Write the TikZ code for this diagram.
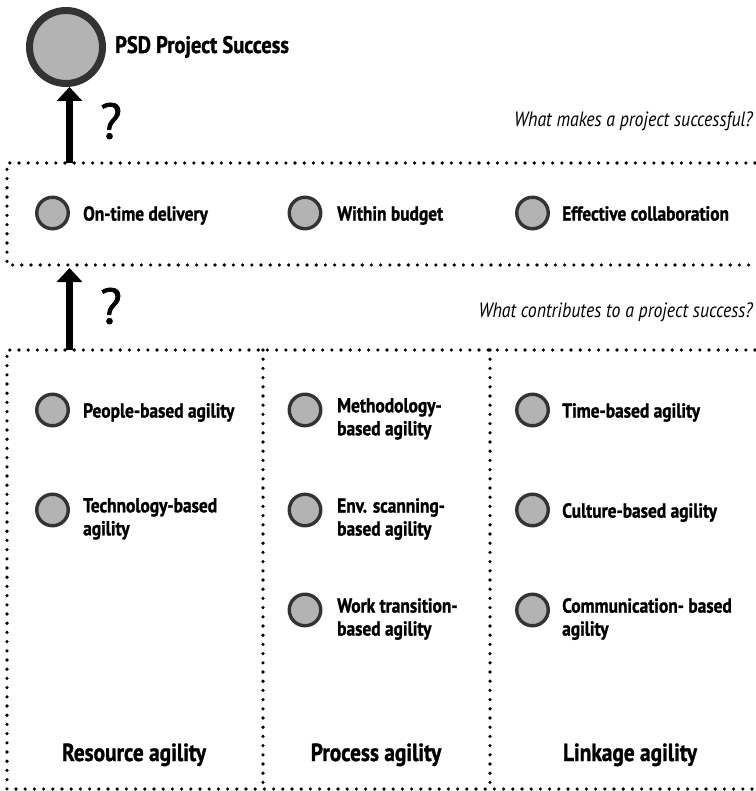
\documentclass[tikz,border=0pt]{standalone}
\usepackage{fontspec}
\setmainfont{PT Sans}[FakeStretch=0.86, BoldFeatures={FakeBold=1.2}]
\newfontfamily\qmarkfont{PT Sans}[FakeBold=1.4]
\usetikzlibrary{arrows.meta}
\definecolor{ringgray}{HTML}{333333}
\definecolor{fillgray}{HTML}{B3B3B3}
\tikzset{
  dots/.style={line width=3.6pt, line cap=round, dash pattern=on 0pt off 9.2pt},
  bullet/.style={circle, draw=ringgray, fill=fillgray, line width=3.4pt,
    minimum size=31.5pt, inner sep=0pt},
  goal/.style={circle, draw=ringgray, fill=fillgray, line width=7pt,
    minimum size=73pt, inner sep=0pt},
  item/.style={anchor=north west, font=\bfseries\fontsize{20.2}{23}\selectfont,
    align=left, inner sep=0pt},
  itemtwo/.style={item, yshift=5pt},
  title/.style={font=\bfseries\fontsize{23.8}{27}\selectfont, inner sep=0pt},
  question/.style={font=\itshape\fontsize{20.7}{24}\selectfont, inner sep=0pt},
  qmark/.style={font=\qmarkfont\fontsize{50}{54}\selectfont, inner sep=0pt},
  colhead/.style={font=\bfseries\fontsize{24.8}{28}\selectfont, inner sep=0pt},
  uparrow/.style={line width=7pt, -{Triangle[width=25pt,length=14pt]}},
}
\begin{document}
\begin{tikzpicture}[x=1pt,y=-1pt]
\useasboundingbox (0,0) rectangle (755,791);

% corners of the two dotted frames and the column dividers
\coordinate (tl1) at (7,163);   \coordinate (tr1) at (755,163);
\coordinate (bl1) at (7,265);   \coordinate (br1) at (755,265);
\coordinate (tl2) at (7,350);   \coordinate (tr2) at (755,350);
\coordinate (bl2) at (7,789);   \coordinate (br2) at (755,789);
\coordinate (d1t) at (263,350); \coordinate (d1b) at (263,789);
\coordinate (d2t) at (490,350); \coordinate (d2b) at (490,789);

\draw[dots] (tr1) -- (tl1) -- (bl1) -- (br1);
\draw[dots] (tr2) -- (tl2) -- (bl2) -- (br2);
\draw[dots] (d1t) -- (d1b);
\draw[dots] (d2t) -- (d2b);

% goal
\node[goal] (psd) at (66,47) {};
\node[title, anchor=base west] (psdlabel) at (115,53) {PSD Project Success};

% arrows with question marks
\coordinate (a1) at (69.5,163);
\draw[uparrow] (a1) -- (a1 |- psd.south);
\node[qmark] (q1) at (111,121) {?};
\node[question, anchor=base east] (ask1) at (753,127) {What makes a project successful?};

\coordinate (a2) at (69.5,350);
\coordinate (a2end) at (69.5,268);
\draw[uparrow] (a2) -- (a2end);
\node[qmark] (q2) at (111,306) {?};
\node[question, anchor=base east] (ask2) at (753,317) {What contributes to a project success?};

% success criteria
\node[bullet] (c1) at (52.5,213) {};
\node[item] (c1t) at (83,206) {On-time delivery};
\node[bullet] (c2) at (305,213) {};
\node[item] (c2t) at (337,206) {Within budget};
\node[bullet] (c3) at (532.5,213) {};
\node[item] (c3t) at (562,206) {Effective collaboration};

% resource agility
\node[bullet] (r1) at (52.5,410) {};
\node[item] (r1t) at (83,403) {People-based agility};
\node[bullet] (r2) at (52.5,510) {};
\node[itemtwo] (r2t) at (83,503) {Technology-based\\agility};

% process agility
\node[bullet] (p1) at (305,410) {};
\node[itemtwo] (p1t) at (337,403) {Methodology-\\based agility};
\node[bullet] (p2) at (305,510) {};
\node[itemtwo] (p2t) at (337,503) {Env. scanning-\\based agility};
\node[bullet] (p3) at (305,610) {};
\node[itemtwo] (p3t) at (337,603) {Work transition-\\based agility};

% linkage agility
\node[bullet] (l1) at (532.5,410) {};
\node[item] (l1t) at (562,403) {Time-based agility};
\node[bullet] (l2) at (532.5,510) {};
\node[item] (l2t) at (562,503) {Culture-based agility};
\node[bullet] (l3) at (532.5,610) {};
\node[itemtwo] (l3t) at (562,603) {Communication- based\\agility};

% column headings
\node[colhead, anchor=base] (res) at (134,761) {Resource agility};
\node[colhead, anchor=base] (pro) at (376,761) {Process agility};
\node[colhead, anchor=base] (lin) at (630,761) {Linkage agility};
\end{tikzpicture}
\end{document}
